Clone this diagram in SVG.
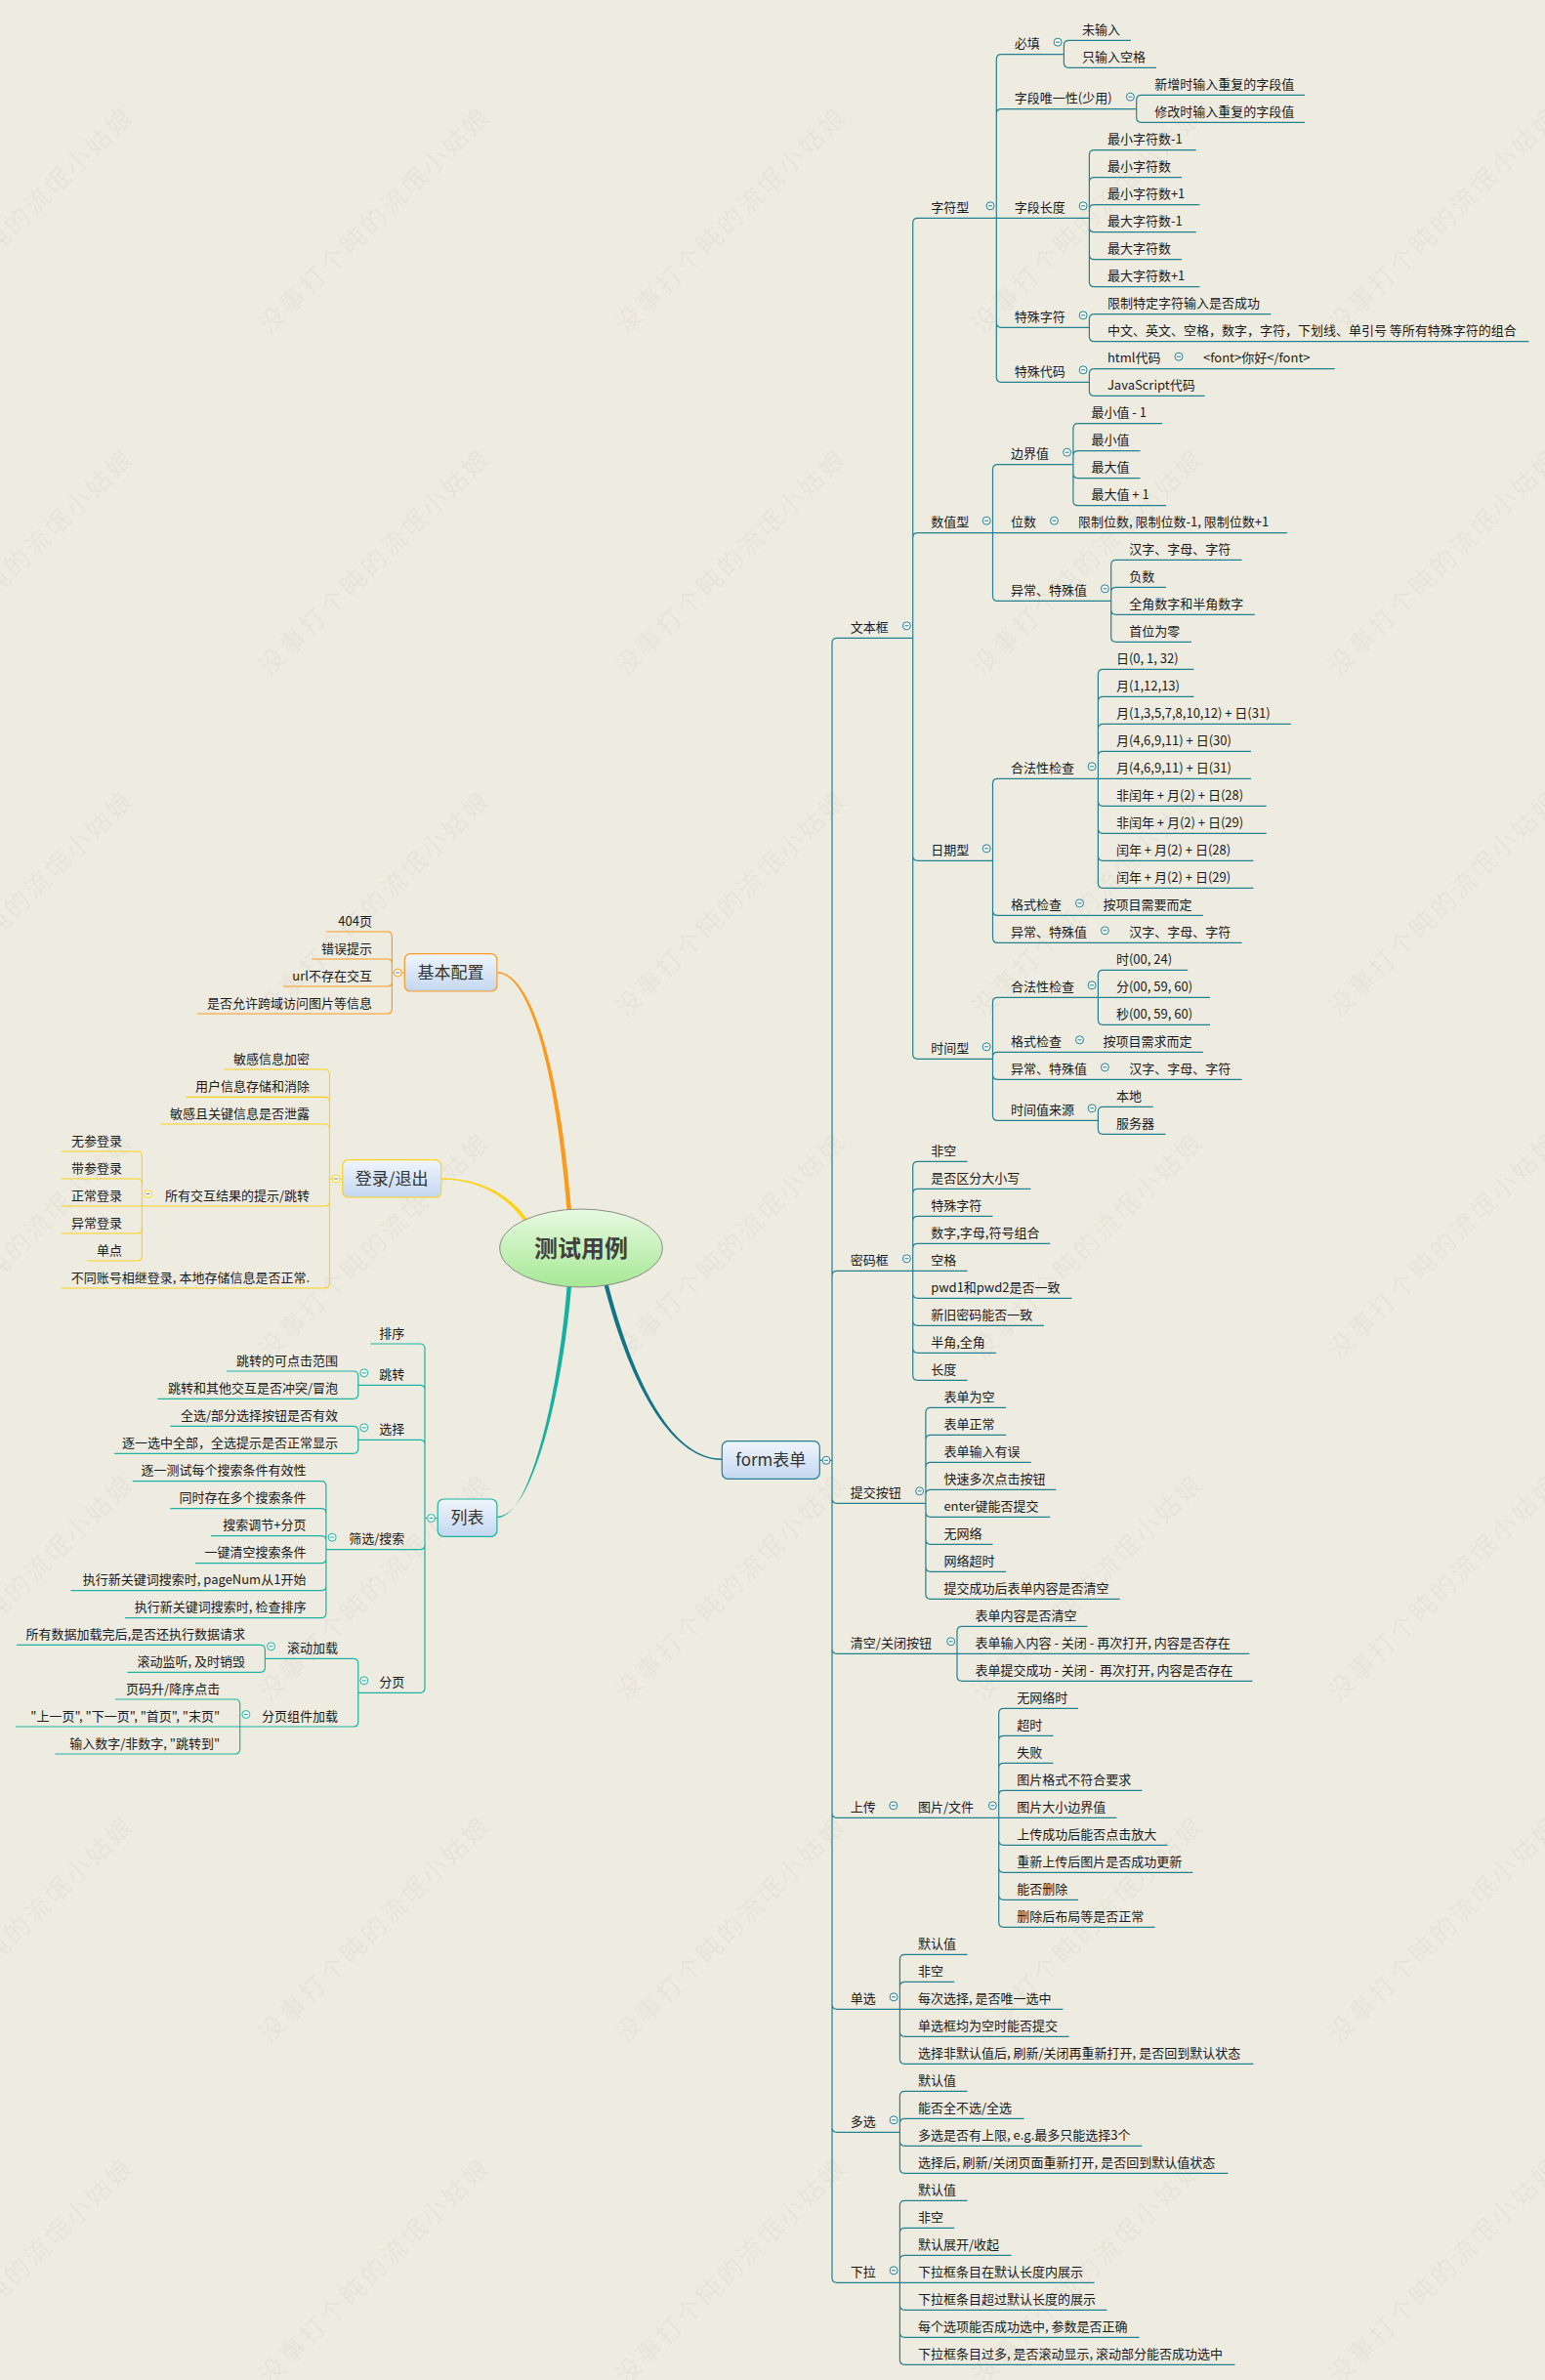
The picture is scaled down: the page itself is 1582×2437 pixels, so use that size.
<svg xmlns="http://www.w3.org/2000/svg" xmlns:xlink="http://www.w3.org/1999/xlink" width="1582" height="2437" viewBox="0 0 1582 2437">
<style>
.t{font-family:'Noto Sans CJK SC','Liberation Sans',sans-serif;font-size:13px;fill:#1a1a1a}
.e{text-anchor:end}
.b{font-family:'Noto Sans CJK SC','Liberation Sans',sans-serif;font-size:17px;fill:#333;text-anchor:middle}
.lf{fill:none;stroke:#23808F;stroke-width:1.2}
.lo{fill:none;stroke:#F99B1F;stroke-width:1.2}
.ly{fill:none;stroke:#FCD21C;stroke-width:1.2}
.ll{fill:none;stroke:#1DB3A3;stroke-width:1.2}
.wm{font-family:'Noto Sans CJK SC',sans-serif;font-size:26px;letter-spacing:3px;fill:#000;fill-opacity:0.05}
</style>
<defs>
<linearGradient id="gb" x1="0" y1="0" x2="0" y2="1"><stop offset="0" stop-color="#F0F5FC"/><stop offset="1" stop-color="#C3D7F1"/></linearGradient>
<linearGradient id="gc" x1="0" y1="0" x2="0" y2="1"><stop offset="0" stop-color="#E8FAE2"/><stop offset="1" stop-color="#A6E894"/></linearGradient>
<g id="tf"><circle r="4" fill="#F4F7F8" stroke="#23808F" stroke-width="1"/><path d="M-2 0H2" stroke="#23808F" stroke-width="1"/></g>
<g id="to"><circle r="4" fill="#FFF8EE" stroke="#F99B1F" stroke-width="1"/><path d="M-2 0H2" stroke="#7a7aa8" stroke-width="1"/></g>
<g id="ty"><circle r="4" fill="#FFFBE6" stroke="#FCD21C" stroke-width="1"/><path d="M-2 0H2" stroke="#7a7aa8" stroke-width="1"/></g>
<g id="tl"><circle r="4" fill="#F0FAF8" stroke="#1DB3A3" stroke-width="1"/><path d="M-2 0H2" stroke="#1DB3A3" stroke-width="1"/></g>
</defs>
<rect width="1582" height="2437" fill="#EEEBE0"/>
<g id="watermark">
<text class="wm" transform="translate(-89 343) rotate(-44.3)">没事打个盹的流氓小姑娘</text>
<text class="wm" transform="translate(276 343) rotate(-44.3)">没事打个盹的流氓小姑娘</text>
<text class="wm" transform="translate(641 343) rotate(-44.3)">没事打个盹的流氓小姑娘</text>
<text class="wm" transform="translate(1006 343) rotate(-44.3)">没事打个盹的流氓小姑娘</text>
<text class="wm" transform="translate(1371 343) rotate(-44.3)">没事打个盹的流氓小姑娘</text>
<text class="wm" transform="translate(-89 693) rotate(-44.3)">没事打个盹的流氓小姑娘</text>
<text class="wm" transform="translate(276 693) rotate(-44.3)">没事打个盹的流氓小姑娘</text>
<text class="wm" transform="translate(641 693) rotate(-44.3)">没事打个盹的流氓小姑娘</text>
<text class="wm" transform="translate(1006 693) rotate(-44.3)">没事打个盹的流氓小姑娘</text>
<text class="wm" transform="translate(1371 693) rotate(-44.3)">没事打个盹的流氓小姑娘</text>
<text class="wm" transform="translate(-89 1043) rotate(-44.3)">没事打个盹的流氓小姑娘</text>
<text class="wm" transform="translate(276 1043) rotate(-44.3)">没事打个盹的流氓小姑娘</text>
<text class="wm" transform="translate(641 1043) rotate(-44.3)">没事打个盹的流氓小姑娘</text>
<text class="wm" transform="translate(1006 1043) rotate(-44.3)">没事打个盹的流氓小姑娘</text>
<text class="wm" transform="translate(1371 1043) rotate(-44.3)">没事打个盹的流氓小姑娘</text>
<text class="wm" transform="translate(-89 1393) rotate(-44.3)">没事打个盹的流氓小姑娘</text>
<text class="wm" transform="translate(276 1393) rotate(-44.3)">没事打个盹的流氓小姑娘</text>
<text class="wm" transform="translate(641 1393) rotate(-44.3)">没事打个盹的流氓小姑娘</text>
<text class="wm" transform="translate(1006 1393) rotate(-44.3)">没事打个盹的流氓小姑娘</text>
<text class="wm" transform="translate(1371 1393) rotate(-44.3)">没事打个盹的流氓小姑娘</text>
<text class="wm" transform="translate(-89 1743) rotate(-44.3)">没事打个盹的流氓小姑娘</text>
<text class="wm" transform="translate(276 1743) rotate(-44.3)">没事打个盹的流氓小姑娘</text>
<text class="wm" transform="translate(641 1743) rotate(-44.3)">没事打个盹的流氓小姑娘</text>
<text class="wm" transform="translate(1006 1743) rotate(-44.3)">没事打个盹的流氓小姑娘</text>
<text class="wm" transform="translate(1371 1743) rotate(-44.3)">没事打个盹的流氓小姑娘</text>
<text class="wm" transform="translate(-89 2093) rotate(-44.3)">没事打个盹的流氓小姑娘</text>
<text class="wm" transform="translate(276 2093) rotate(-44.3)">没事打个盹的流氓小姑娘</text>
<text class="wm" transform="translate(641 2093) rotate(-44.3)">没事打个盹的流氓小姑娘</text>
<text class="wm" transform="translate(1006 2093) rotate(-44.3)">没事打个盹的流氓小姑娘</text>
<text class="wm" transform="translate(1371 2093) rotate(-44.3)">没事打个盹的流氓小姑娘</text>
<text class="wm" transform="translate(-89 2443) rotate(-44.3)">没事打个盹的流氓小姑娘</text>
<text class="wm" transform="translate(276 2443) rotate(-44.3)">没事打个盹的流氓小姑娘</text>
<text class="wm" transform="translate(641 2443) rotate(-44.3)">没事打个盹的流氓小姑娘</text>
<text class="wm" transform="translate(1006 2443) rotate(-44.3)">没事打个盹的流氓小姑娘</text>
<text class="wm" transform="translate(1371 2443) rotate(-44.3)">没事打个盹的流氓小姑娘</text>
</g>
<g id="connectors">
<path d="M509.5 995.2C541 995.2 572.2 1079.8 585.3 1242L580.8 1242C567.8 1080.2 539 996.8 509.5 996.8Z" fill="#F99B1F"/>
<path d="M452 1206.3C490 1206.3 523.7 1222.9 541.7 1250.9L538.3 1253.1C520.3 1225.1 490 1207.7 452 1207.7Z" fill="#FCD21C"/>
<path d="M585.3 1314C577.2 1420 546 1552.8 509 1552.8L509 1554.2C544 1554.2 572.8 1420 580.8 1314Z" fill="#15B09E"/>
<path d="M622.2 1313C647 1409.5 686 1493.6 739.3 1493.6L739.3 1495C684 1494.4 643 1410.5 617.8 1313Z" fill="#137487"/>
<path class="lo" d="M414.3 996H401.4M401.4 996V959Q401.4 954 396.4 954H334M401.4 996V987Q401.4 982 396.4 982H319M401.4 996V1005Q401.4 1010 396.4 1010H290M401.4 996V1033Q401.4 1038 396.4 1038H202"/>
<path class="ly" d="M350.7 1207H337.5M337.5 1207V1100Q337.5 1095 332.5 1095H229.3M337.5 1207V1128.3Q337.5 1123.3 332.5 1123.3H190.4M337.5 1207V1156Q337.5 1151 332.5 1151H164.3M337.5 1207V1230Q337.5 1235 332.5 1235H145.4M337.5 1207V1314Q337.5 1319 332.5 1319H62.5"/>
<path class="ly" d="M145.4 1235V1184Q145.4 1179 140.4 1179H62.5M145.4 1235V1212Q145.4 1207 140.4 1207H62.5M145.4 1235H62.5M145.4 1235V1258Q145.4 1263 140.4 1263H62.5M145.4 1235V1286Q145.4 1291 140.4 1291H89.3"/>
<path class="ll" d="M448.2 1554.5H435M435 1554.5V1381Q435 1376 430 1376H379.3M435 1554.5V1423.3Q435 1418.3 430 1418.3H366.8M435 1554.5V1479.3Q435 1474.3 430 1474.3H366.8M435 1554.5V1581.7Q435 1586.7 430 1586.7H333.9M435 1554.5V1728.3Q435 1733.3 430 1733.3H366.8"/>
<path class="ll" d="M366.8 1418.3V1409Q366.8 1404 361.8 1404H232.1M366.8 1418.3V1427.3Q366.8 1432.3 361.8 1432.3H161.4"/>
<path class="ll" d="M366.8 1474.3V1465.3Q366.8 1460.3 361.8 1460.3H174.3M366.8 1474.3V1483.3Q366.8 1488.3 361.8 1488.3H117.1"/>
<path class="ll" d="M333.9 1586.7V1521.7Q333.9 1516.7 328.9 1516.7H135.7M333.9 1586.7V1549.7Q333.9 1544.7 328.9 1544.7H174.3M333.9 1586.7V1577.7Q333.9 1572.7 328.9 1572.7H216M333.9 1586.7V1595.7Q333.9 1600.7 328.9 1600.7H200M333.9 1586.7V1623.7Q333.9 1628.7 328.9 1628.7H72.5M333.9 1586.7V1651.7Q333.9 1656.7 328.9 1656.7H127.9"/>
<path class="ll" d="M366.8 1733.3V1703.3Q366.8 1698.3 361.8 1698.3H271.4M366.8 1733.3V1763Q366.8 1768 361.8 1768H245.7"/>
<path class="ll" d="M271.4 1698.3V1689.3Q271.4 1684.3 266.4 1684.3H17.1M271.4 1698.3V1707.3Q271.4 1712.3 266.4 1712.3H130.4"/>
<path class="ll" d="M245.7 1768V1745Q245.7 1740 240.7 1740H117.9M245.7 1768H16.1M245.7 1768V1791Q245.7 1796 240.7 1796H56.4"/>
<path class="lf" d="M839.3 1495.3H852M852 1495.3V658.3Q852 653.3 857 653.3H934.7M852 1495.3V1306.3Q852 1301.3 857 1301.3H934.7M852 1495.3V1534.3Q852 1539.3 857 1539.3H947.9M852 1495.3V1688.3Q852 1693.3 857 1693.3H980M852 1495.3V1856.3Q852 1861.3 857 1861.3H1022.7M852 1495.3V2052.3Q852 2057.3 857 2057.3H921.4M852 1495.3V2178.3Q852 2183.3 857 2183.3H921.4M852 1495.3V2332.3Q852 2337.3 857 2337.3H921.4"/>
<path class="lf" d="M934.7 653.3V228.3Q934.7 223.3 939.7 223.3H1020.3M934.7 653.3V550.7Q934.7 545.7 939.7 545.7H1016.5M934.7 653.3V876.3Q934.7 881.3 939.7 881.3H1016.5M934.7 653.3V1079.3Q934.7 1084.3 939.7 1084.3H1016.5"/>
<path class="lf" d="M1020.3 223.3V60.7Q1020.3 55.7 1025.3 55.7H1089.4M1020.3 223.3V116.7Q1020.3 111.7 1025.3 111.7H1163.7M1020.3 223.3H1115.4M1020.3 223.3V330.3Q1020.3 335.3 1025.3 335.3H1115.4M1020.3 223.3V386.3Q1020.3 391.3 1025.3 391.3H1115.4"/>
<path class="lf" d="M1089.4 55.7V46.3Q1089.4 41.3 1094.4 41.3H1158M1089.4 55.7V64.3Q1089.4 69.3 1094.4 69.3H1184"/>
<path class="lf" d="M1163.7 111.7V102.3Q1163.7 97.3 1168.7 97.3H1336M1163.7 111.7V120.3Q1163.7 125.3 1168.7 125.3H1336"/>
<path class="lf" d="M1115.4 223.3V158.7Q1115.4 153.7 1120.4 153.7H1224.8M1115.4 223.3V186.7Q1115.4 181.7 1120.4 181.7H1210M1115.4 223.3V214.7Q1115.4 209.7 1120.4 209.7H1228.5M1115.4 223.3V232.7Q1115.4 237.7 1120.4 237.7H1224.8M1115.4 223.3V260.7Q1115.4 265.7 1120.4 265.7H1210M1115.4 223.3V288.7Q1115.4 293.7 1120.4 293.7H1228.5"/>
<path class="lf" d="M1115.4 335.3V326.7Q1115.4 321.7 1120.4 321.7H1301.4M1115.4 335.3V344.7Q1115.4 349.7 1120.4 349.7H1565.5"/>
<path class="lf" d="M1115.4 391.3V382.7Q1115.4 377.7 1120.4 377.7H1366.7M1115.4 391.3V400.3Q1115.4 405.3 1120.4 405.3H1233.7"/>
<path class="lf" d="M1016.5 545.7V480.7Q1016.5 475.7 1021.5 475.7H1098.9M1016.5 545.7H1318M1016.5 545.7V610.3Q1016.5 615.3 1021.5 615.3H1137.7"/>
<path class="lf" d="M1098.9 475.7V438.7Q1098.9 433.7 1103.9 433.7H1190.2M1098.9 475.7V466.7Q1098.9 461.7 1103.9 461.7H1167.5M1098.9 475.7V484.7Q1098.9 489.7 1103.9 489.7H1167.5M1098.9 475.7V512.7Q1098.9 517.7 1103.9 517.7H1194"/>
<path class="lf" d="M1137.7 615.3V578.3Q1137.7 573.3 1142.7 573.3H1271.6M1137.7 615.3V606.3Q1137.7 601.3 1142.7 601.3H1194M1137.7 615.3V624.3Q1137.7 629.3 1142.7 629.3H1284.9M1137.7 615.3V652.3Q1137.7 657.3 1142.7 657.3H1220"/>
<path class="lf" d="M1016.5 881.3V802.3Q1016.5 797.3 1021.5 797.3H1124.4M1016.5 881.3V932.3Q1016.5 937.3 1021.5 937.3H1231.9M1016.5 881.3V960.3Q1016.5 965.3 1021.5 965.3H1271.6"/>
<path class="lf" d="M1124.4 797.3V690.3Q1124.4 685.3 1129.4 685.3H1222.4M1124.4 797.3V718.3Q1124.4 713.3 1129.4 713.3H1222.4M1124.4 797.3V746.3Q1124.4 741.3 1129.4 741.3H1321.8M1124.4 797.3V774.3Q1124.4 769.3 1129.4 769.3H1281M1124.4 797.3H1281M1124.4 797.3V820.3Q1124.4 825.3 1129.4 825.3H1296.7M1124.4 797.3V848.3Q1124.4 853.3 1129.4 853.3H1296.7M1124.4 797.3V876.3Q1124.4 881.3 1129.4 881.3H1283.4M1124.4 797.3V904.3Q1124.4 909.3 1129.4 909.3H1283.4"/>
<path class="lf" d="M1016.5 1084.3V1026.3Q1016.5 1021.3 1021.5 1021.3H1124.4M1016.5 1084.3V1082.3Q1016.5 1077.3 1021.5 1077.3H1231.9M1016.5 1084.3V1100.3Q1016.5 1105.3 1021.5 1105.3H1271.6M1016.5 1084.3V1142.3Q1016.5 1147.3 1021.5 1147.3H1124.4"/>
<path class="lf" d="M1124.4 1021.3V998.3Q1124.4 993.3 1129.4 993.3H1216.2M1124.4 1021.3H1239M1124.4 1021.3V1044.3Q1124.4 1049.3 1129.4 1049.3H1239"/>
<path class="lf" d="M1124.4 1147.3V1138.3Q1124.4 1133.3 1129.4 1133.3H1180.7M1124.4 1147.3V1156.3Q1124.4 1161.3 1129.4 1161.3H1193.5"/>
<path class="lf" d="M934.7 1301.3V1194.3Q934.7 1189.3 939.7 1189.3H990.5M934.7 1301.3V1222.3Q934.7 1217.3 939.7 1217.3H1055.3M934.7 1301.3V1250.3Q934.7 1245.3 939.7 1245.3H1016.5M934.7 1301.3V1278.3Q934.7 1273.3 939.7 1273.3H1075.2M934.7 1301.3H990.5M934.7 1301.3V1324.3Q934.7 1329.3 939.7 1329.3H1097.5M934.7 1301.3V1352.3Q934.7 1357.3 939.7 1357.3H1069M934.7 1301.3V1380.3Q934.7 1385.3 939.7 1385.3H1019.8M934.7 1301.3V1408.3Q934.7 1413.3 939.7 1413.3H990.5"/>
<path class="lf" d="M947.9 1539.3V1446.3Q947.9 1441.3 952.9 1441.3H1030.2M947.9 1539.3V1474.3Q947.9 1469.3 952.9 1469.3H1030.2M947.9 1539.3V1502.3Q947.9 1497.3 952.9 1497.3H1055.8M947.9 1539.3V1530.3Q947.9 1525.3 952.9 1525.3H1081.4M947.9 1539.3V1548.3Q947.9 1553.3 952.9 1553.3H1075.2M947.9 1539.3V1576.3Q947.9 1581.3 952.9 1581.3H1016.5M947.9 1539.3V1604.3Q947.9 1609.3 952.9 1609.3H1030.2M947.9 1539.3V1632.3Q947.9 1637.3 952.9 1637.3H1146.7"/>
<path class="lf" d="M980 1693.3V1670.3Q980 1665.3 985 1665.3H1113.5M980 1693.3H1279.2M980 1693.3V1716.3Q980 1721.3 985 1721.3H1282.5"/>
<path class="lf" d="M1022.7 1861.3V1754.3Q1022.7 1749.3 1027.7 1749.3H1104M1022.7 1861.3V1782.3Q1022.7 1777.3 1027.7 1777.3H1078.5M1022.7 1861.3V1810.3Q1022.7 1805.3 1027.7 1805.3H1078.5M1022.7 1861.3V1838.3Q1022.7 1833.3 1027.7 1833.3H1169.4M1022.7 1861.3H1143.4M1022.7 1861.3V1884.3Q1022.7 1889.3 1027.7 1889.3H1195.4M1022.7 1861.3V1912.3Q1022.7 1917.3 1027.7 1917.3H1221.4M1022.7 1861.3V1940.3Q1022.7 1945.3 1027.7 1945.3H1104M1022.7 1861.3V1968.3Q1022.7 1973.3 1027.7 1973.3H1182.6"/>
<path class="lf" d="M921.4 2057.3V2006.3Q921.4 2001.3 926.4 2001.3H990.5M921.4 2057.3V2034.3Q921.4 2029.3 926.4 2029.3H977.2M921.4 2057.3H1088.5M921.4 2057.3V2080.3Q921.4 2085.3 926.4 2085.3H1094.6M921.4 2057.3V2108.3Q921.4 2113.3 926.4 2113.3H1283.4"/>
<path class="lf" d="M921.4 2183.3V2146.3Q921.4 2141.3 926.4 2141.3H990.5M921.4 2183.3V2174.3Q921.4 2169.3 926.4 2169.3H1048.7M921.4 2183.3V2192.3Q921.4 2197.3 926.4 2197.3H1169.4M921.4 2183.3V2220.3Q921.4 2225.3 926.4 2225.3H1257.4"/>
<path class="lf" d="M921.4 2337.3V2258.3Q921.4 2253.3 926.4 2253.3H990.5M921.4 2337.3V2286.3Q921.4 2281.3 926.4 2281.3H977.2M921.4 2337.3V2314.3Q921.4 2309.3 926.4 2309.3H1035.5M921.4 2337.3H1120.6M921.4 2337.3V2360.3Q921.4 2365.3 926.4 2365.3H1133.4M921.4 2337.3V2388.3Q921.4 2393.3 926.4 2393.3H1166.5M921.4 2337.3V2416.3Q921.4 2421.3 926.4 2421.3H1264.5"/>
</g>
<g id="root"><ellipse cx="595" cy="1278" rx="83.3" ry="40" fill="url(#gc)" stroke="#8a8a8a" stroke-width="1"/><text x="595" y="1287" class="b" style="font-size:24px;font-weight:bold;fill:#404040">测试用例</text></g>
<g id="n-jbpz"><rect x="414.3" y="976.7" width="94.6" height="38.3" rx="6" fill="url(#gb)" stroke="#F99B1F" stroke-width="1.2"/><text class="b" x="461.6" y="1002">基本配置</text><use href="#to" x="407.3" y="996"/></g>
<g id="n-dl"><rect x="350.7" y="1187.7" width="101" height="38.3" rx="6" fill="url(#gb)" stroke="#FCD21C" stroke-width="1.2"/><text class="b" x="401.2" y="1213">登录/退出</text><use href="#ty" x="344" y="1207"/></g>
<g id="n-lb"><rect x="448.2" y="1535" width="60.7" height="38.3" rx="6" fill="url(#gb)" stroke="#1DB3A3" stroke-width="1.2"/><text class="b" x="478.6" y="1560">列表</text><use href="#tl" x="441.5" y="1554.5"/></g>
<g id="n-form"><rect x="739.3" y="1475.7" width="100" height="38.6" rx="6" fill="url(#gb)" stroke="#23808F" stroke-width="1.2"/><text class="b" x="789.3" y="1501">form表单</text><use href="#tf" x="846" y="1495.3"/></g>
<g id="left-nodes">
<g id="n-404"><text class="t e" x="381" y="947.5">404页</text></g>
<g id="n-cwts"><text class="t e" x="381" y="975.5">错误提示</text></g>
<g id="n-url"><text class="t e" x="381" y="1003.5">url不存在交互</text></g>
<g id="n-ky"><text class="t e" x="381" y="1031.5">是否允许跨域访问图片等信息</text></g>
<g id="n-mgjm"><text class="t e" x="317" y="1088.5">敏感信息加密</text></g>
<g id="n-yhxx"><text class="t e" x="317" y="1116.8">用户信息存储和消除</text></g>
<g id="n-mgxl"><text class="t e" x="317" y="1144.5">敏感且关键信息是否泄露</text></g>
<g id="n-syjh"><text class="t e" x="317" y="1228.5">所有交互结果的提示/跳转</text><use href="#ty" x="151.5" y="1222.5"/></g>
<g id="n-wc"><text class="t e" x="125" y="1172.5">无参登录</text></g>
<g id="n-dc"><text class="t e" x="125" y="1200.5">带参登录</text></g>
<g id="n-zc"><text class="t e" x="125" y="1228.5">正常登录</text></g>
<g id="n-yc"><text class="t e" x="125" y="1256.5">异常登录</text></g>
<g id="n-dd"><text class="t e" x="125" y="1284.5">单点</text></g>
<g id="n-btzh"><text class="t e" x="317" y="1312.5">不同账号相继登录, 本地存储信息是否正常.</text></g>
<g id="n-px"><text class="t e" x="414.3" y="1369.5">排序</text></g>
<g id="n-tz"><text class="t e" x="414.3" y="1411.8">跳转</text><use href="#tl" x="372.8" y="1405.8"/></g>
<g id="n-tz1"><text class="t e" x="346" y="1397.5">跳转的可点击范围</text></g>
<g id="n-tz2"><text class="t e" x="346" y="1425.8">跳转和其他交互是否冲突/冒泡</text></g>
<g id="n-xz"><text class="t e" x="414.3" y="1467.8">选择</text><use href="#tl" x="372.8" y="1461.8"/></g>
<g id="n-xz1"><text class="t e" x="346" y="1453.8">全选/部分选择按钮是否有效</text></g>
<g id="n-xz2"><text class="t e" x="346" y="1481.8">逐一选中全部，全选提示是否正常显示</text></g>
<g id="n-sx"><text class="t e" x="414.3" y="1580.2">筛选/搜索</text><use href="#tl" x="340.2" y="1574.2"/></g>
<g id="n-sx1"><text class="t e" x="313.4" y="1510.2">逐一测试每个搜索条件有效性</text></g>
<g id="n-sx2"><text class="t e" x="313.4" y="1538.2">同时存在多个搜索条件</text></g>
<g id="n-sx3"><text class="t e" x="313.4" y="1566.2">搜索调节+分页</text></g>
<g id="n-sx4"><text class="t e" x="313.4" y="1594.2">一键清空搜索条件</text></g>
<g id="n-sx5"><text class="t e" x="313.4" y="1622.2">执行新关键词搜索时, pageNum从1开始</text></g>
<g id="n-sx6"><text class="t e" x="313.4" y="1650.2">执行新关键词搜索时, 检查排序</text></g>
<g id="n-fy"><text class="t e" x="414.3" y="1726.8">分页</text><use href="#tl" x="372.8" y="1720.8"/></g>
<g id="n-gdjz"><text class="t e" x="346" y="1691.8">滚动加载</text><use href="#tl" x="277.6" y="1685.8"/></g>
<g id="n-gd1"><text class="t e" x="251" y="1677.8">所有数据加载完后,是否还执行数据请求</text></g>
<g id="n-gd2"><text class="t e" x="251" y="1705.8">滚动监听, 及时销毁</text></g>
<g id="n-fyzj"><text class="t e" x="346" y="1761.5">分页组件加载</text><use href="#tl" x="251.9" y="1755.5"/></g>
<g id="n-fy1"><text class="t e" x="225.2" y="1733.5">页码升/降序点击</text></g>
<g id="n-fy2"><text class="t e" x="225.2" y="1761.5">&quot;上一页&quot;, &quot;下一页&quot;, &quot;首页&quot;, &quot;末页&quot;</text></g>
<g id="n-fy3"><text class="t e" x="225.2" y="1789.5">输入数字/非数字, &quot;跳转到&quot;</text></g>
</g>
<g id="right-nodes">
<g id="n-wbk"><text class="t" x="870.8" y="646.8">文本框</text><use href="#tf" x="928.4" y="640.8"/></g>
<g id="n-zfx"><text class="t" x="953.2" y="216.8">字符型</text><use href="#tf" x="1014" y="210.8"/></g>
<g id="n-bt"><text class="t" x="1038.8" y="49.2">必填</text><use href="#tf" x="1083.1" y="43.2"/></g>
<g id="n-bt1"><text class="t" x="1107.9" y="34.8">未输入</text></g>
<g id="n-bt2"><text class="t" x="1107.9" y="62.8">只输入空格</text></g>
<g id="n-wyx"><text class="t" x="1038.8" y="105.2">字段唯一性(少用)</text><use href="#tf" x="1157.4" y="99.2"/></g>
<g id="n-wyx1"><text class="t" x="1182.2" y="90.8">新增时输入重复的字段值</text></g>
<g id="n-wyx2"><text class="t" x="1182.2" y="118.8">修改时输入重复的字段值</text></g>
<g id="n-zdcd"><text class="t" x="1038.8" y="216.8">字段长度</text><use href="#tf" x="1109.1" y="210.8"/></g>
<g id="n-cd1"><text class="t" x="1133.9" y="147.2">最小字符数-1</text></g>
<g id="n-cd2"><text class="t" x="1133.9" y="175.2">最小字符数</text></g>
<g id="n-cd3"><text class="t" x="1133.9" y="203.2">最小字符数+1</text></g>
<g id="n-cd4"><text class="t" x="1133.9" y="231.2">最大字符数-1</text></g>
<g id="n-cd5"><text class="t" x="1133.9" y="259.2">最大字符数</text></g>
<g id="n-cd6"><text class="t" x="1133.9" y="287.2">最大字符数+1</text></g>
<g id="n-tszf"><text class="t" x="1038.8" y="328.8">特殊字符</text><use href="#tf" x="1109.1" y="322.8"/></g>
<g id="n-tszf1"><text class="t" x="1133.9" y="315.2">限制特定字符输入是否成功</text></g>
<g id="n-tszf2"><text class="t" x="1133.9" y="343.2">中文、英文、空格，数字，字符，下划线、单引号 等所有特殊字符的组合</text></g>
<g id="n-tsdm"><text class="t" x="1038.8" y="384.8">特殊代码</text><use href="#tf" x="1109.1" y="378.8"/></g>
<g id="n-html"><text class="t" x="1133.9" y="371.2">html代码</text><use href="#tf" x="1207" y="365.2"/></g>
<g id="n-font"><text class="t" x="1232" y="371.2">&lt;font&gt;你好&lt;/font&gt;</text></g>
<g id="n-js"><text class="t" x="1133.9" y="398.8">JavaScript代码</text></g>
<g id="n-szx"><text class="t" x="953.2" y="539.2">数值型</text><use href="#tf" x="1010.2" y="533.2"/></g>
<g id="n-bjz"><text class="t" x="1035" y="469.2">边界值</text><use href="#tf" x="1092.6" y="463.2"/></g>
<g id="n-bj1"><text class="t" x="1117.4" y="427.2">最小值 - 1</text></g>
<g id="n-bj2"><text class="t" x="1117.4" y="455.2">最小值</text></g>
<g id="n-bj3"><text class="t" x="1117.4" y="483.2">最大值</text></g>
<g id="n-bj4"><text class="t" x="1117.4" y="511.2">最大值 + 1</text></g>
<g id="n-ws"><text class="t" x="1035" y="539.2">位数</text><use href="#tf" x="1079.5" y="533.2"/></g>
<g id="n-ws1"><text class="t" x="1104" y="539.2">限制位数, 限制位数-1, 限制位数+1</text></g>
<g id="n-yc1"><text class="t" x="1035" y="608.8">异常、特殊值</text><use href="#tf" x="1131.4" y="602.8"/></g>
<g id="n-yc11"><text class="t" x="1156.2" y="566.8">汉字、字母、字符</text></g>
<g id="n-yc12"><text class="t" x="1156.2" y="594.8">负数</text></g>
<g id="n-yc13"><text class="t" x="1156.2" y="622.8">全角数字和半角数字</text></g>
<g id="n-yc14"><text class="t" x="1156.2" y="650.8">首位为零</text></g>
<g id="n-rqx"><text class="t" x="953.2" y="874.8">日期型</text><use href="#tf" x="1010.2" y="868.8"/></g>
<g id="n-hf1"><text class="t" x="1035" y="790.8">合法性检查</text><use href="#tf" x="1118.1" y="784.8"/></g>
<g id="n-hf11"><text class="t" x="1142.9" y="678.8">日(0, 1, 32)</text></g>
<g id="n-hf12"><text class="t" x="1142.9" y="706.8">月(1,12,13)</text></g>
<g id="n-hf13"><text class="t" x="1142.9" y="734.8">月(1,3,5,7,8,10,12) + 日(31)</text></g>
<g id="n-hf14"><text class="t" x="1142.9" y="762.8">月(4,6,9,11) + 日(30)</text></g>
<g id="n-hf15"><text class="t" x="1142.9" y="790.8">月(4,6,9,11) + 日(31)</text></g>
<g id="n-hf16"><text class="t" x="1142.9" y="818.8">非闰年 + 月(2) + 日(28)</text></g>
<g id="n-hf17"><text class="t" x="1142.9" y="846.8">非闰年 + 月(2) + 日(29)</text></g>
<g id="n-hf18"><text class="t" x="1142.9" y="874.8">闰年 + 月(2) + 日(28)</text></g>
<g id="n-hf19"><text class="t" x="1142.9" y="902.8">闰年 + 月(2) + 日(29)</text></g>
<g id="n-gs1"><text class="t" x="1035" y="930.8">格式检查</text><use href="#tf" x="1105.5" y="924.8"/></g>
<g id="n-gs11"><text class="t" x="1129.6" y="930.8">按项目需要而定</text></g>
<g id="n-yc2"><text class="t" x="1035" y="958.8">异常、特殊值</text><use href="#tf" x="1131.4" y="952.8"/></g>
<g id="n-yc21"><text class="t" x="1156.2" y="958.8">汉字、字母、字符</text></g>
<g id="n-sjx"><text class="t" x="953.2" y="1077.8">时间型</text><use href="#tf" x="1010.2" y="1071.8"/></g>
<g id="n-hf2"><text class="t" x="1035" y="1014.8">合法性检查</text><use href="#tf" x="1118.1" y="1008.8"/></g>
<g id="n-hf21"><text class="t" x="1142.9" y="986.8">时(00, 24)</text></g>
<g id="n-hf22"><text class="t" x="1142.9" y="1014.8">分(00, 59, 60)</text></g>
<g id="n-hf23"><text class="t" x="1142.9" y="1042.8">秒(00, 59, 60)</text></g>
<g id="n-gs2"><text class="t" x="1035" y="1070.8">格式检查</text><use href="#tf" x="1105.5" y="1064.8"/></g>
<g id="n-gs21"><text class="t" x="1129.6" y="1070.8">按项目需求而定</text></g>
<g id="n-yc3"><text class="t" x="1035" y="1098.8">异常、特殊值</text><use href="#tf" x="1131.4" y="1092.8"/></g>
<g id="n-yc31"><text class="t" x="1156.2" y="1098.8">汉字、字母、字符</text></g>
<g id="n-sjly"><text class="t" x="1035" y="1140.8">时间值来源</text><use href="#tf" x="1118.1" y="1134.8"/></g>
<g id="n-bd"><text class="t" x="1142.9" y="1126.8">本地</text></g>
<g id="n-fwq"><text class="t" x="1142.9" y="1154.8">服务器</text></g>
<g id="n-mmk"><text class="t" x="870.8" y="1294.8">密码框</text><use href="#tf" x="928.4" y="1288.8"/></g>
<g id="n-mm1"><text class="t" x="953.2" y="1182.8">非空</text></g>
<g id="n-mm2"><text class="t" x="953.2" y="1210.8">是否区分大小写</text></g>
<g id="n-mm3"><text class="t" x="953.2" y="1238.8">特殊字符</text></g>
<g id="n-mm4"><text class="t" x="953.2" y="1266.8">数字,字母,符号组合</text></g>
<g id="n-mm5"><text class="t" x="953.2" y="1294.8">空格</text></g>
<g id="n-mm6"><text class="t" x="953.2" y="1322.8">pwd1和pwd2是否一致</text></g>
<g id="n-mm7"><text class="t" x="953.2" y="1350.8">新旧密码能否一致</text></g>
<g id="n-mm8"><text class="t" x="953.2" y="1378.8">半角,全角</text></g>
<g id="n-mm9"><text class="t" x="953.2" y="1406.8">长度</text></g>
<g id="n-tjan"><text class="t" x="870.8" y="1532.8">提交按钮</text><use href="#tf" x="941.6" y="1526.8"/></g>
<g id="n-tj1"><text class="t" x="966.4" y="1434.8">表单为空</text></g>
<g id="n-tj2"><text class="t" x="966.4" y="1462.8">表单正常</text></g>
<g id="n-tj3"><text class="t" x="966.4" y="1490.8">表单输入有误</text></g>
<g id="n-tj4"><text class="t" x="966.4" y="1518.8">快速多次点击按钮</text></g>
<g id="n-tj5"><text class="t" x="966.4" y="1546.8">enter键能否提交</text></g>
<g id="n-tj6"><text class="t" x="966.4" y="1574.8">无网络</text></g>
<g id="n-tj7"><text class="t" x="966.4" y="1602.8">网络超时</text></g>
<g id="n-tj8"><text class="t" x="966.4" y="1630.8">提交成功后表单内容是否清空</text></g>
<g id="n-qk"><text class="t" x="870.8" y="1686.8">清空/关闭按钮</text><use href="#tf" x="973.7" y="1680.8"/></g>
<g id="n-qk1"><text class="t" x="998.5" y="1658.8">表单内容是否清空</text></g>
<g id="n-qk2"><text class="t" x="998.5" y="1686.8">表单输入内容 - 关闭 - 再次打开, 内容是否存在</text></g>
<g id="n-qk3"><text class="t" x="998.5" y="1714.8" xml:space="preserve">表单提交成功 - 关闭 -  再次打开, 内容是否存在</text></g>
<g id="n-sc"><text class="t" x="870.8" y="1854.8">上传</text><use href="#tf" x="914.8" y="1848.8"/></g>
<g id="n-tpwj"><text class="t" x="940" y="1854.8">图片/文件</text><use href="#tf" x="1016.4" y="1848.8"/></g>
<g id="n-tp1"><text class="t" x="1041.2" y="1742.8">无网络时</text></g>
<g id="n-tp2"><text class="t" x="1041.2" y="1770.8">超时</text></g>
<g id="n-tp3"><text class="t" x="1041.2" y="1798.8">失败</text></g>
<g id="n-tp4"><text class="t" x="1041.2" y="1826.8">图片格式不符合要求</text></g>
<g id="n-tp5"><text class="t" x="1041.2" y="1854.8">图片大小边界值</text></g>
<g id="n-tp6"><text class="t" x="1041.2" y="1882.8">上传成功后能否点击放大</text></g>
<g id="n-tp7"><text class="t" x="1041.2" y="1910.8">重新上传后图片是否成功更新</text></g>
<g id="n-tp8"><text class="t" x="1041.2" y="1938.8">能否删除</text></g>
<g id="n-tp9"><text class="t" x="1041.2" y="1966.8">删除后布局等是否正常</text></g>
<g id="n-dx"><text class="t" x="870.8" y="2050.8">单选</text><use href="#tf" x="915.1" y="2044.8"/></g>
<g id="n-dx1"><text class="t" x="940" y="1994.8">默认值</text></g>
<g id="n-dx2"><text class="t" x="940" y="2022.8">非空</text></g>
<g id="n-dx3"><text class="t" x="940" y="2050.8">每次选择, 是否唯一选中</text></g>
<g id="n-dx4"><text class="t" x="940" y="2078.8">单选框均为空时能否提交</text></g>
<g id="n-dx5"><text class="t" x="940" y="2106.8">选择非默认值后, 刷新/关闭再重新打开, 是否回到默认状态</text></g>
<g id="n-duox"><text class="t" x="870.8" y="2176.8">多选</text><use href="#tf" x="915.1" y="2170.8"/></g>
<g id="n-duox1"><text class="t" x="940" y="2134.8">默认值</text></g>
<g id="n-duox2"><text class="t" x="940" y="2162.8">能否全不选/全选</text></g>
<g id="n-duox3"><text class="t" x="940" y="2190.8">多选是否有上限, e.g.最多只能选择3个</text></g>
<g id="n-duox4"><text class="t" x="940" y="2218.8">选择后, 刷新/关闭页面重新打开, 是否回到默认值状态</text></g>
<g id="n-xl"><text class="t" x="870.8" y="2330.8">下拉</text><use href="#tf" x="915.1" y="2324.8"/></g>
<g id="n-xl1"><text class="t" x="940" y="2246.8">默认值</text></g>
<g id="n-xl2"><text class="t" x="940" y="2274.8">非空</text></g>
<g id="n-xl3"><text class="t" x="940" y="2302.8">默认展开/收起</text></g>
<g id="n-xl4"><text class="t" x="940" y="2330.8">下拉框条目在默认长度内展示</text></g>
<g id="n-xl5"><text class="t" x="940" y="2358.8">下拉框条目超过默认长度的展示</text></g>
<g id="n-xl6"><text class="t" x="940" y="2386.8">每个选项能否成功选中, 参数是否正确</text></g>
<g id="n-xl7"><text class="t" x="940" y="2414.8">下拉框条目过多, 是否滚动显示, 滚动部分能否成功选中</text></g>
</g>
</svg>
